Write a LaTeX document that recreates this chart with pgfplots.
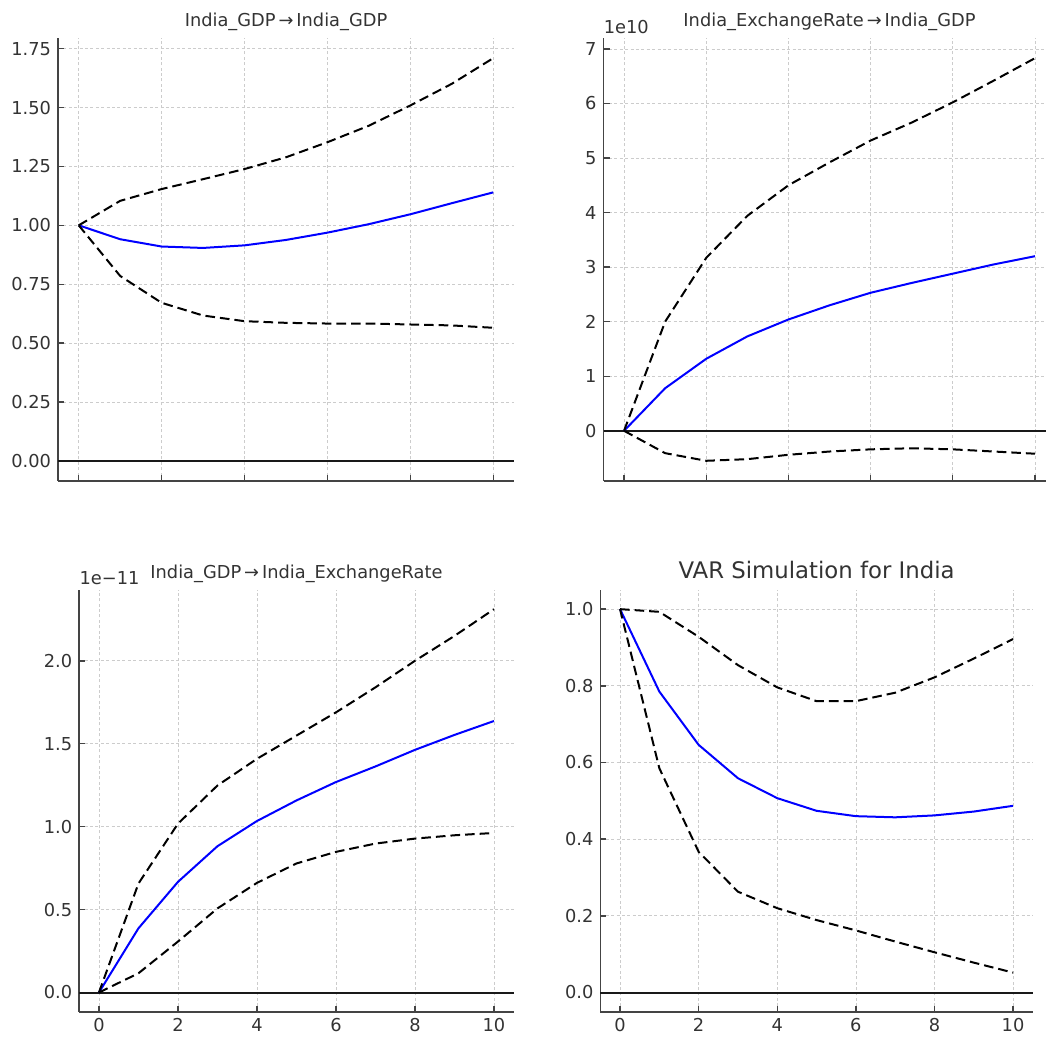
\documentclass[border=0pt]{standalone}
\usepackage{pgfplots}
\pgfplotsset{compat=1.18}
\usepackage{fontspec}
\setmainfont{DejaVu Sans}
\definecolor{txt}{HTML}{333333}
\definecolor{spine}{HTML}{444444}
\definecolor{gridc}{HTML}{CCCCCC}
\pgfplotsset{
  irf/.style={
    scale only axis,
    anchor=south west,
    axis x line*=bottom, axis y line*=left,
    axis line style={spine, line width=0.9pt},
    every tick/.style={spine, line width=0.7pt},
    major tick length=3pt,
    tick align=inside,
    xmin=-0.5, xmax=10.5,
    xtick={0,2,4,6,8,10},
    grid=major,
    grid style={gridc, line width=0.35pt, dash pattern=on 1.5pt off 1.2pt},
    tick label style={font=\fontsize{8.9}{10}\selectfont, text=txt},
    /pgf/number format/assume math mode=true,
    scaled y ticks=false,
    title style={font=\fontsize{8.9}{10}\selectfont, text=txt, yshift=-6pt},
    clip=false,
  },
  mid/.style={blue, line width=1pt, solid},
  band/.style={black, line width=1pt, dash pattern=on 4.8pt off 2.5pt},
  zero/.style={black!90, line width=1pt},
}
\begin{document}
\begin{tikzpicture}
\useasboundingbox (0,-4pt) rectangle (523pt,514.5pt);
% top-left
\begin{axis}[irf, at={(29pt,274pt)}, width=228pt, height=221.5pt,
  ymin=-0.0855, ymax=1.7955,
  ytick={0,0.25,0.5,0.75,1,1.25,1.5,1.75},
  yticklabel style={/pgf/number format/.cd, fixed, fixed zerofill, precision=2},
  xticklabels={},
  title={India\_GDP\,→\,India\_GDP}]
\addplot[zero] coordinates {(-0.5,0) (10.5,0)};
\addplot[mid] coordinates {(0,1.0) (1,0.941) (2,0.910) (3,0.904) (4,0.915) (5,0.938) (6,0.969) (7,1.005) (8,1.047) (9,1.094) (10,1.140)};
\addplot[band] coordinates {(0,1.0) (1,1.104) (2,1.154) (3,1.196) (4,1.239) (5,1.289) (6,1.353) (7,1.423) (8,1.509) (9,1.601) (10,1.710)};
\addplot[band] coordinates {(0,1.0) (1,0.785) (2,0.671) (3,0.617) (4,0.593) (5,0.586) (6,0.583) (7,0.583) (8,0.579) (9,0.575) (10,0.565)};
\end{axis}
% top-right
\begin{axis}[irf, at={(301.75pt,274pt)}, width=226pt, height=221.5pt,
  ymin=-0.92, ymax=7.2,
  ytick={0,1,2,3,4,5,6,7},
  xticklabels={},
  title={India\_ExchangeRate\,→\,India\_GDP}]
\addplot[zero] coordinates {(-0.5,0) (10.5,0)};
\addplot[mid] coordinates {(0,0) (1,0.78) (2,1.32) (3,1.73) (4,2.04) (5,2.30) (6,2.53) (7,2.71) (8,2.88) (9,3.05) (10,3.20)};
\addplot[band] coordinates {(0,0) (1,2.0) (2,3.17) (3,3.94) (4,4.50) (5,4.92) (6,5.32) (7,5.65) (8,6.02) (9,6.42) (10,6.83)};
\addplot[band] coordinates {(0,0) (1,-0.41) (2,-0.55) (3,-0.52) (4,-0.44) (5,-0.38) (6,-0.34) (7,-0.32) (8,-0.34) (9,-0.38) (10,-0.42)};
\node[anchor=south west, inner sep=0pt, font=\fontsize{8.9}{10}\selectfont, text=txt] at (rel axis cs:0,1) [yshift=2pt] {1e10};
\end{axis}
% bottom-left
\begin{axis}[irf, at={(39.6pt,8.65pt)}, width=217.25pt, height=210.85pt,
  ymin=-0.1156, ymax=2.427,
  ytick={0,0.5,1,1.5,2},
  yticklabel style={/pgf/number format/.cd, fixed, fixed zerofill, precision=1},
  title={India\_GDP\,→\,India\_ExchangeRate}]
\addplot[zero] coordinates {(-0.5,0) (10.5,0)};
\addplot[mid] coordinates {(0,0) (1,0.387) (2,0.667) (3,0.882) (4,1.034) (5,1.158) (6,1.269) (7,1.363) (8,1.463) (9,1.553) (10,1.637)};
\addplot[band] coordinates {(0,0) (1,0.657) (2,1.018) (3,1.248) (4,1.409) (5,1.549) (6,1.689) (7,1.840) (8,2.0) (9,2.150) (10,2.311)};
\addplot[band] coordinates {(0,0) (1,0.116) (2,0.307) (3,0.507) (4,0.661) (5,0.778) (6,0.848) (7,0.898) (8,0.928) (9,0.948) (10,0.962)};
\node[anchor=south west, inner sep=0pt, font=\fontsize{8.9}{10}\selectfont, text=txt] at (rel axis cs:0,1) [yshift=2.5pt] {1e−11};
\end{axis}
% bottom-right
\begin{axis}[irf, at={(300.2pt,8.65pt)}, width=216.15pt, height=210.85pt,
  ymin=-0.05, ymax=1.05,
  ytick={0,0.2,0.4,0.6,0.8,1},
  yticklabel style={/pgf/number format/.cd, fixed, fixed zerofill, precision=1},
  title style={font=\fontsize{11.4}{13}\selectfont, yshift=2pt},
  title={VAR Simulation for India}]
\addplot[zero] coordinates {(-0.5,0) (10.5,0)};
\addplot[mid] coordinates {(0,1) (1,0.785) (2,0.646) (3,0.559) (4,0.507) (5,0.474) (6,0.460) (7,0.457) (8,0.462) (9,0.472) (10,0.487)};
\addplot[band] coordinates {(0,1) (1,0.993) (2,0.928) (3,0.854) (4,0.796) (5,0.760) (6,0.760) (7,0.782) (8,0.822) (9,0.871) (10,0.922)};
\addplot[band] coordinates {(0,1) (1,0.585) (2,0.367) (3,0.263) (4,0.220) (5,0.189) (6,0.162) (7,0.133) (8,0.105) (9,0.078) (10,0.052)};
\end{axis}
\end{tikzpicture}
\end{document}
